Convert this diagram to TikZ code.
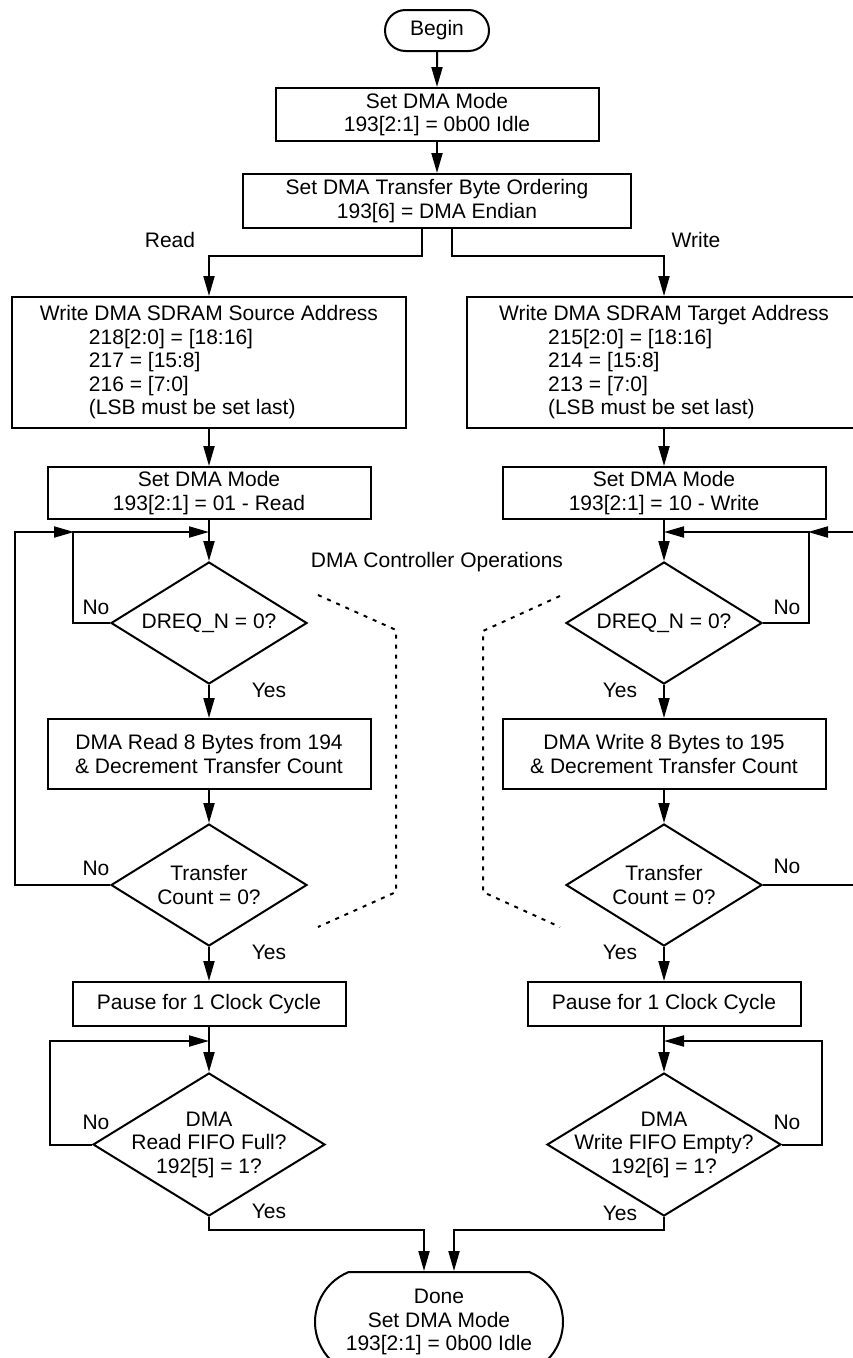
\documentclass[tikz,border=0pt]{standalone}
\usepackage{fontspec}
\setmainfont{Liberation Sans}
\usetikzlibrary{arrows.meta,shapes.geometric,shapes.misc,positioning}

\begin{document}
\begin{tikzpicture}[
  x=1pt,y=-1pt,
  >={Triangle[length=20pt,width=11pt]},
  font=\fontsize{21}{23.5}\selectfont,
  line width=2pt,
  proc/.style={draw,rectangle,align=center,inner sep=0pt},
  term/.style={draw,rounded rectangle,align=center,inner sep=0pt},
  decision/.style={draw,diamond,inner sep=0pt},
  lbl/.style={inner sep=0pt},
  flow/.style={->},
  zone/.style={line width=2pt,dash pattern=on 4pt off 6pt}
]
  \useasboundingbox (0,0) rectangle (852,1358);

  \node[term,minimum width=104pt,minimum height=41pt] (begin) at (437,30.5) {Begin};
  \node[proc,minimum width=323pt,minimum height=53pt] (mode0) at (437,114.5) {Set DMA Mode\\193[2:1] = 0b00 Idle};
  \node[proc,minimum width=388pt,minimum height=54pt] (order) at (437,201) {Set DMA Transfer Byte Ordering\\193[6] = DMA Endian};
  \node[lbl] (rdlbl) at (170,240) {Read};
  \node[lbl] (wrlbl) at (696,240) {Write};
  \node[lbl] (ctrl) at (437,562) {DMA Controller Operations};

  \node[proc,align=left,minimum width=394pt,minimum height=131pt] (addrRd) at (209,362.5)
    {Write DMA SDRAM Source Address\\\hspace*{49pt}218[2:0] = [18:16]\\\hspace*{49pt}217 = [15:8]\\\hspace*{49pt}216 = [7:0]\\\hspace*{49pt}(LSB must be set last)};
  \node[proc,minimum width=323pt,minimum height=52pt] (modeRd) at (209,493) {Set DMA Mode\\193[2:1] = 01 - Read};
  \node[decision,minimum width=196pt,minimum height=122pt,label={[align=center]center:DREQ\_N = 0?}] (dreqRd) at (209,623) {};
  \node[proc,minimum width=323pt,minimum height=70pt] (xferRd) at (209,754) {DMA Read 8 Bytes from 194\\\& Decrement Transfer Count};
  \node[decision,minimum width=196pt,minimum height=122pt,label={[align=center]center:Transfer\\Count = 0?}] (cntRd) at (209,885) {};
  \node[proc,minimum width=273pt,minimum height=44pt] (pauseRd) at (209,1004) {Pause for 1 Clock Cycle};
  \node[decision,minimum width=232pt,minimum height=143pt,label={[align=center]center:DMA\\Read FIFO Full?\\192[5] = 1?}] (fifoRd) at (209,1144.5) {};

  \node[proc,align=left,minimum width=394pt,minimum height=131pt] (addrWr) at (664,362.5)
    {Write DMA SDRAM Target Address\\\hspace*{49pt}215[2:0] = [18:16]\\\hspace*{49pt}214 = [15:8]\\\hspace*{49pt}213 = [7:0]\\\hspace*{49pt}(LSB must be set last)};
  \node[proc,minimum width=323pt,minimum height=52pt] (modeWr) at (664,493) {Set DMA Mode\\193[2:1] = 10 - Write};
  \node[decision,minimum width=196pt,minimum height=122pt,label={[align=center]center:DREQ\_N = 0?}] (dreqWr) at (664,623) {};
  \node[proc,minimum width=323pt,minimum height=70pt] (xferWr) at (664,754) {DMA Write 8 Bytes to 195\\\& Decrement Transfer Count};
  \node[decision,minimum width=196pt,minimum height=122pt,label={[align=center]center:Transfer\\Count = 0?}] (cntWr) at (664,885) {};
  \node[proc,minimum width=273pt,minimum height=44pt] (pauseWr) at (664,1004) {Pause for 1 Clock Cycle};
  \node[decision,minimum width=234pt,minimum height=143pt,label={[align=center]center:DMA\\Write FIFO Empty?\\192[6] = 1?}] (fifoWr) at (664,1144.5) {};

  \node[term,rounded rectangle arc length=136,minimum width=248pt,minimum height=100pt] (done) at (439,1322)
    {Done\\Set DMA Mode\\193[2:1] = 0b00 Idle};

  \node[lbl] (noDreqRd) at (96,607) {No};
  \node[lbl] (noCntRd) at (96,868) {No};
  \node[lbl] (noFifoRd) at (96,1122) {No};
  \node[lbl] (noDreqWr) at (787,607) {No};
  \node[lbl] (noCntWr) at (787,866) {No};
  \node[lbl] (noFifoWr) at (787,1122) {No};
  \node[lbl] (yesDreqRd) at (269,690) {Yes};
  \node[lbl] (yesCntRd) at (269,952) {Yes};
  \node[lbl] (yesFifoRd) at (269,1211) {Yes};
  \node[lbl] (yesDreqWr) at (620,690) {Yes};
  \node[lbl] (yesCntWr) at (620,952) {Yes};
  \node[lbl] (yesFifoWr) at (620,1213) {Yes};

  \coordinate (jRd) at (209,532);
  \coordinate (kRd) at (74,532);
  \coordinate (mRd) at (209,1041);
  \coordinate (jWr) at (664,532);
  \coordinate (kWr) at (808,532);
  \coordinate (mWr) at (664,1041);

  \draw[flow] (begin) -- (mode0);
  \draw[flow] (mode0) -- (order);
  \draw[flow] ([xshift=-15pt]order.south) -- ++(0,27) -| (addrRd.north);
  \draw[flow] ([xshift=15pt]order.south) -- ++(0,27) -| (addrWr.north);

  \draw[flow] (addrRd) -- (modeRd);
  \draw[flow] (modeRd) -- (dreqRd);
  \draw[flow] (dreqRd) -- (xferRd);
  \draw[flow] (xferRd) -- (cntRd);
  \draw[flow] (cntRd) -- (pauseRd);
  \draw[flow] (pauseRd) -- (fifoRd);
  \draw[flow] (dreqRd.west) -- ++(-37,0) |- (jRd);
  \draw[flow] (cntRd.west) -- ++(-95,0) |- (kRd);
  \draw[flow] (fifoRd.west) -- ++(-42,0) |- (mRd);
  \draw[flow] (fifoRd.south) -- ++(0,13) -| ([xshift=-15pt]done.north);

  \draw[flow] (addrWr) -- (modeWr);
  \draw[flow] (modeWr) -- (dreqWr);
  \draw[flow] (dreqWr) -- (xferWr);
  \draw[flow] (xferWr) -- (cntWr);
  \draw[flow] (cntWr) -- (pauseWr);
  \draw[flow] (pauseWr) -- (fifoWr);
  \draw[flow] (dreqWr.east) -- ++(46,0) |- (jWr);
  \draw[flow] (cntWr.east) -- ++(100,0) |- (kWr);
  \draw[flow] (fifoWr.east) -- ++(40,0) |- (mWr);
  \draw[flow] (fifoWr.south) -- ++(0,13) -| ([xshift=15pt]done.north);

  \draw[zone] (318,595) -- (396,630) -- (396,892) -- (318,927);
  \draw[zone] (560,596) -- (483,631) -- (483,892) -- (560,927);
\end{tikzpicture}
\end{document}
